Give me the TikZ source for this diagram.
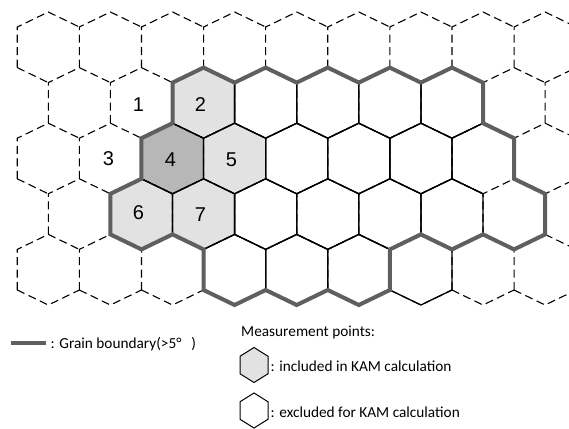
\documentclass[tikz,border=0pt]{standalone}
\usepackage{fontspec}
\setmainfont{Carlito}
\newfontfamily\digitfont{Liberation Sans}
\definecolor{gbgray}{RGB}{95,95,95}
\definecolor{lightfill}{RGB}{226,226,226}
\definecolor{darkfill}{RGB}{183,183,183}
\begin{document}
\begin{tikzpicture}[x=1pt,y=-1pt,
  dashedge/.style={draw=black,line width=1.1pt,dash pattern=on 8pt off 4.5pt},
  solidedge/.style={draw=black,line width=1.3pt,line join=miter},
  grainline/.style={draw=gbgray,line width=4pt,line join=miter},
  numlab/.style={font=\digitfont\fontsize{20}{24}\selectfont,inner sep=0pt},
  legtext/.style={font=\fontsize{15.3}{18}\selectfont,anchor=west,inner sep=0pt},
  leghex/.style={draw=black,line width=1pt,line join=miter}]
\useasboundingbox (0,0) rectangle (569,428);
\fill[white] (0,0) rectangle (569,428);
\begin{scope}
\clip (0,0) rectangle (569,428);
% fills of measurement points included in KAM
\foreach \ro/\co/\f in {1/2/lightfill,2/2/darkfill,2/3/lightfill,3/1/lightfill,3/2/lightfill}{
  \pgfmathsetmacro\cx{48.3+62.1*\co+31.05*mod(\ro,2)}
  \pgfmathsetmacro\cy{47.3+55.6*\ro}
  \fill[fill=\f] (\cx,\cy-35.3) -- (\cx+31.05,\cy-20.3) -- (\cx+31.05,\cy+20.3) -- (\cx,\cy+35.3) -- (\cx-31.05,\cy+20.3) -- (\cx-31.05,\cy-20.3) -- cycle;
}
% dashed grid, each edge once
\foreach \ro in {0,...,4}{
  \foreach \co in {0,...,8}{
    \pgfmathsetmacro\cx{48.3+62.1*\co+31.05*mod(\ro,2)}
    \pgfmathsetmacro\cy{47.3+55.6*\ro}
    \draw[dashedge] (\cx-31.05,\cy+20.3) -- (\cx-31.05,\cy-20.3) -- (\cx,\cy-35.3) -- (\cx+31.05,\cy-20.3);
  }
}
\draw[dashedge] (17.25,67.6) -- (48.3,82.6);
\draw[dashedge] (17.25,178.8) -- (48.3,193.8);
\foreach \co in {0,...,8}{
  \pgfmathsetmacro\cx{48.3+62.1*\co}
  \draw[dashedge] (\cx-31.05,290.0) -- (\cx,305.0) -- (\cx+31.05,290.0);
}
% solid measurement points
\foreach \ro/\co in {1/2,1/3,1/4,1/5,1/6,2/2,2/3,2/4,2/5,2/6,3/1,3/2,3/3,3/4,3/5,3/6,4/3,4/4,4/5,4/6}{
  \pgfmathsetmacro\cx{48.3+62.1*\co+31.05*mod(\ro,2)}
  \pgfmathsetmacro\cy{47.3+55.6*\ro}
  \draw[solidedge] (\cx,\cy-35.3) -- (\cx+31.05,\cy-20.3) -- (\cx+31.05,\cy+20.3) -- (\cx,\cy+35.3) -- (\cx-31.05,\cy+20.3) -- (\cx-31.05,\cy-20.3) -- cycle;
}
\draw[solidedge] (514.05,178.8) -- (514.05,138.2) -- (483,123.2) -- (451.95,138.2) -- (451.95,178.8) -- (483,193.8);
% grain boundary
\draw[grainline] (172.5,82.6) -- (203.55,67.6) -- (234.6,82.6) -- (265.65,67.6) -- (296.7,82.6)
  -- (327.75,67.6) -- (358.8,82.6) -- (389.85,67.6) -- (420.9,82.6) -- (451.95,67.6) -- (483.0,82.6)
  -- (483.0,123.2) -- (514.05,138.2) -- (514.05,178.8) -- (545.1,193.8) -- (545.1,234.4)
  -- (514.05,249.4) -- (483.0,234.4) -- (451.95,249.4) -- (420.9,234.4) -- (389.85,249.4)
  -- (389.85,290.0) -- (358.8,305.0) -- (327.75,290.0) -- (296.7,305.0) -- (265.65,290.0)
  -- (234.6,305.0) -- (203.55,290.0) -- (203.55,249.4) -- (172.5,234.4) -- (141.45,249.4)
  -- (110.4,234.4) -- (110.4,193.8) -- (141.45,178.8) -- (141.45,138.2) -- (172.5,123.2) -- cycle;
\end{scope}
% point numbers
\node[numlab] (n1) at (138.5,105) {1};
\node[numlab] (n2) at (200.5,105) {2};
\node[numlab] (n3) at (108.5,159) {3};
\node[numlab] (n4) at (170.5,160) {4};
\node[numlab] (n5) at (231.5,160) {5};
\node[numlab] (n6) at (138.5,213) {6};
\node[numlab] (n7) at (200.5,215) {7};
% legend
\coordinate (gbA) at (10.5,343);
\coordinate (gbB) at (45.5,343);
\draw[grainline] (gbA) -- (gbB);
\node[legtext] (gbtext) at (50.5,344) {: Grain boundary(>5°\hspace{10pt})};
\node[legtext] (mptext) at (241,332) {Measurement points:};
\draw[leghex,fill=lightfill] (254,347.5) -- (268,356.25) -- (268,373.75) -- (254,382.5) -- (240,373.75) -- (240,356.25) -- cycle;
\node[legtext] (inctext) at (270.5,366) {: included in KAM calculation};
\draw[leghex] (254,393) -- (268,401.75) -- (268,419.25) -- (254,428) -- (240,419.25) -- (240,401.75) -- cycle;
\node[legtext] (exctext) at (270.5,412) {: excluded for KAM calculation};
\end{tikzpicture}
\end{document}
